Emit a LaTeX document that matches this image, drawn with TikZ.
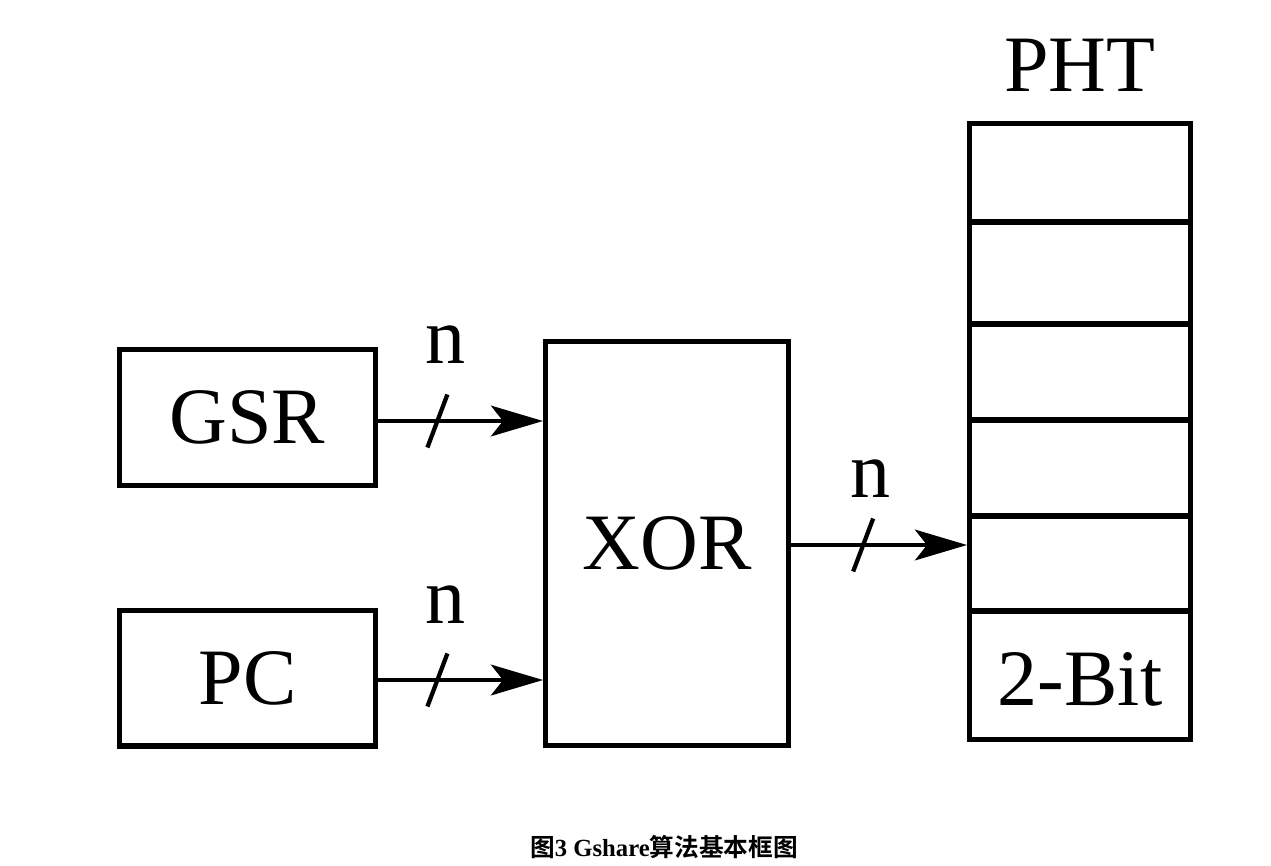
\documentclass[tikz,border=0pt]{standalone}
\usepackage{fontspec}
\setmainfont{Liberation Serif}
\newfontfamily\cjk{Noto Sans CJK SC}[BoldFont={* Bold}]
\usetikzlibrary{arrows.meta}
\begin{document}
\begin{tikzpicture}[x=0.75pt,y=-0.75pt,
  blk/.style={draw, line width=4pt, inner sep=0pt, font=\fontsize{60}{60}\selectfont},
  conn/.style={line width=3.2pt, -{Stealth[length=39pt,width=23pt,inset=9pt]}},
  slash/.style={line width=3.2pt},
  lbl/.style={font=\fontsize{60}{60}\selectfont, inner sep=0pt},
  sep/.style={line width=4.5pt}]
\useasboundingbox (0,0) rectangle (1271,865);
\node[blk, minimum width=191.75pt, minimum height=101.75pt] (GSR) at (247.5,417.5) {GSR};
\node[blk, minimum width=191.75pt, minimum height=101.75pt] (PC) at (247.5,678) {PC};
\node[blk, minimum width=182pt, minimum height=302.75pt] (XOR) at (667,543.5) {XOR};
\node[blk, minimum width=165.5pt, minimum height=461.75pt] (PHT) at (1080,431.5) {};
\node[lbl] (phtlbl) at (1080,65) {PHT};
\node[lbl] (bit) at (1080,679) {2-Bit};
\foreach \yy/\nm in {222/s1,324/s2,420/s3,516/s4,611/s5}{
  \coordinate (\nm) at (1080,\yy);
  \draw[sep] (PHT.west |- \nm) -- (PHT.east |- \nm);
}
\coordinate (ga) at (378,421);
\coordinate (pa) at (378,680);
\draw[conn] (ga) -- (ga -| XOR.west) coordinate[pos=0.36] (gs);
\draw[conn] (pa) -- (pa -| XOR.west) coordinate[pos=0.36] (ps);
\draw[conn] (XOR.east |- 0,545) coordinate (xa) -- (xa -| PHT.west) coordinate[pos=0.41] (xs);
\foreach \c in {gs,ps,xs}{
  \draw[slash] ([shift={(-10,26.5)}]\c) -- ([shift={(10,-26.5)}]\c);
}
\node[lbl] (n1) at (445,345) {n};
\node[lbl] (n2) at (445,605) {n};
\node[lbl] (n3) at (870,479) {n};
\node[inner sep=0pt, font=\fontsize{18.5}{18.5}\selectfont\bfseries] (cap) at (664,847) {{\cjk 图}3 Gshare{\cjk 算法基本框图}};
\end{tikzpicture}
\end{document}
